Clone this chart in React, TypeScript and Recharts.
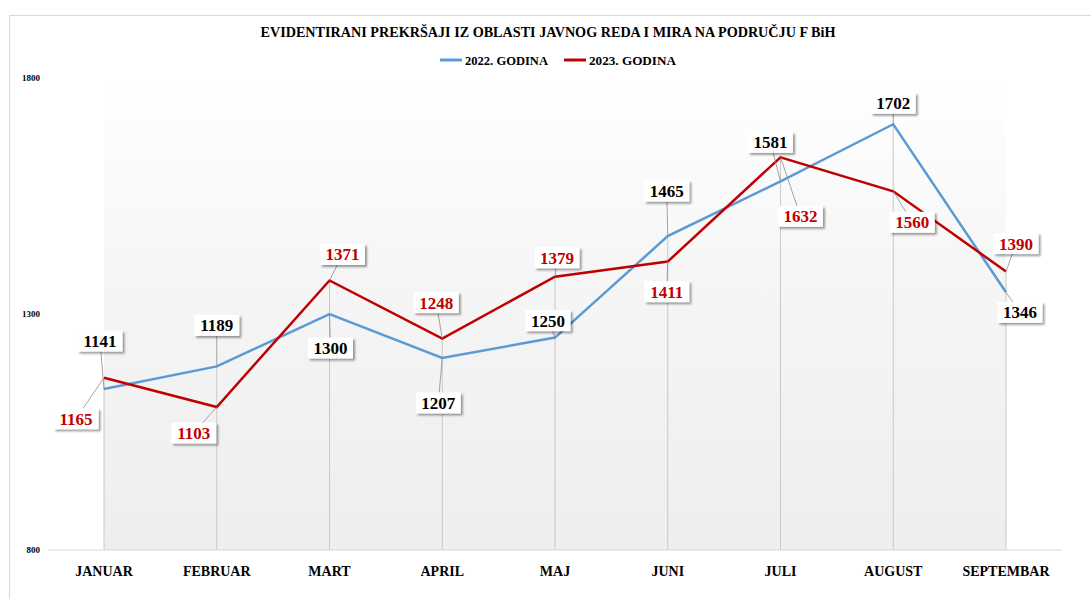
import { LineChart, Line, XAxis, YAxis, ReferenceArea, ReferenceLine, LabelList } from "recharts"

const months = ["JANUAR", "FEBRUAR", "MART", "APRIL", "MAJ", "JUNI", "JULI", "AUGUST", "SEPTEMBAR"]
const values2022 = [1141, 1189, 1300, 1207, 1250, 1465, 1581, 1702, 1346]
const values2023 = [1165, 1103, 1371, 1248, 1379, 1411, 1632, 1560, 1390]
const yTicks = [800, 1300, 1800]

// label box offsets from the point (layout only)
const offsets2022 = [[-4, -48], [0, -41], [1, 34], [-4, 45], [-7, -17], [-1, -45], [-10, -39], [0, -21], [14, 20]]
const offsets2023 = [[-28, 41], [-23, 26], [13, -26], [-6, -36], [2, -19], [-1, 30], [20, 59], [19, 31], [10, -28]]

const BLUE = "#5b9bd5"
const RED = "#c00000"
const FONT = "'Liberation Serif', 'DejaVu Serif', serif"

const data = months.map((m, i) => ({
  month: m,
  g2022: values2022[i],
  g2023: values2023[i],
  top: Math.max(values2022[i], values2023[i]),
}))

function makeLabel(color: string, offsets: number[][]) {
  return (props: any) => {
    const { x, y, value, index } = props
    const [dx, dy] = offsets[index]
    const cx = x + dx
    const cy = y + dy
    const w = 45
    const h = 21
    return (
      <g>
        <line x1={x} y1={y} x2={cx} y2={cy} stroke="#8c8c8c" strokeWidth={0.8} />
        <rect x={cx - w / 2} y={cy - h / 2} width={w} height={h} fill="#fff" filter="url(#boxShadow)" />
        <text x={cx} y={cy + 6} textAnchor="middle" fontSize={17} fontWeight="bold" fontFamily={FONT} fill={color}>
          {value}
        </text>
      </g>
    )
  }
}

export default function App() {
  return (
    <div style={{ position: "absolute", left: 0, top: 0, width: 1091, height: 599, background: "#fff", overflow: "hidden" }}>
      <div style={{ position: "absolute", left: 9, top: 15, width: 1090, height: 600, border: "1px solid #d9d9d9" }} />
      <svg width={1091} height={80} style={{ position: "absolute", left: 0, top: 0 }}>
        <text x={548} y={37} textAnchor="middle" fontSize={15} fontWeight="bold" fontFamily={FONT} fill="#000"
          textLength={575} lengthAdjust="spacingAndGlyphs">
          EVIDENTIRANI PREKRŠAJI IZ OBLASTI JAVNOG REDA I MIRA NA PODRUČJU F BiH
        </text>
        <line x1={440} y1={60} x2={462} y2={60} stroke={BLUE} strokeWidth={3} />
        <text x={465} y={64.5} fontSize={12} fontWeight="bold" fontFamily={FONT} fill="#000" textLength={83} lengthAdjust="spacingAndGlyphs">
          2022. GODINA
        </text>
        <line x1={564} y1={60} x2={586} y2={60} stroke={RED} strokeWidth={3} />
        <text x={589} y={64.5} fontSize={12} fontWeight="bold" fontFamily={FONT} fill="#000" textLength={87} lengthAdjust="spacingAndGlyphs">
          2023. GODINA
        </text>
      </svg>
      <div style={{ position: "absolute", left: 0, top: 0 }}>
        <LineChart width={1091} height={599} data={data} margin={{ top: 78, right: 29, bottom: 19, left: 8 }}>
          <defs>
            <linearGradient id="plotBg" x1="0" y1="0" x2="0" y2="1">
              <stop offset="0%" stopColor="#ffffff" />
              <stop offset="45%" stopColor="#f5f5f5" />
              <stop offset="100%" stopColor="#eeeeee" />
            </linearGradient>
            <filter id="boxShadow" x="-30%" y="-40%" width="170%" height="200%">
              <feDropShadow dx="2" dy="2" stdDeviation="1.3" floodColor="#000" floodOpacity="0.4" />
            </filter>
          </defs>
          <ReferenceArea y1={800} y2={1800} fill="url(#plotBg)" fillOpacity={1} stroke="none" />
          <XAxis
            dataKey="month"
            height={30}
            padding={{ left: 56, right: 56 }}
            axisLine={{ stroke: "#d9d9d9" }}
            tickLine={false}
            tick={{ fontSize: 14, fontWeight: "bold", fill: "#000", fontFamily: FONT }}
            tickMargin={10}
          />
          <YAxis
            domain={[800, 1800]}
            ticks={yTicks}
            width={40}
            axisLine={false}
            tickLine={false}
            tick={{ fontSize: 9, fontWeight: "bold", fill: "#000", fontFamily: FONT }}
            tickMargin={2}
          />
          {data.map((d) => (
            <ReferenceLine
              key={d.month}
              segment={[{ x: d.month, y: 800 }, { x: d.month, y: d.top }]}
              stroke="#c8c8c8"
              strokeWidth={1}
            />
          ))}
          <Line type="linear" dataKey="g2022" stroke={BLUE} strokeWidth={2.5} dot={false} isAnimationActive={false}>
            <LabelList dataKey="g2022" content={makeLabel("#000", offsets2022)} />
          </Line>
          <Line type="linear" dataKey="g2023" stroke={RED} strokeWidth={2.5} dot={false} isAnimationActive={false}>
            <LabelList dataKey="g2023" content={makeLabel(RED, offsets2023)} />
          </Line>
        </LineChart>
      </div>
    </div>
  )
}
